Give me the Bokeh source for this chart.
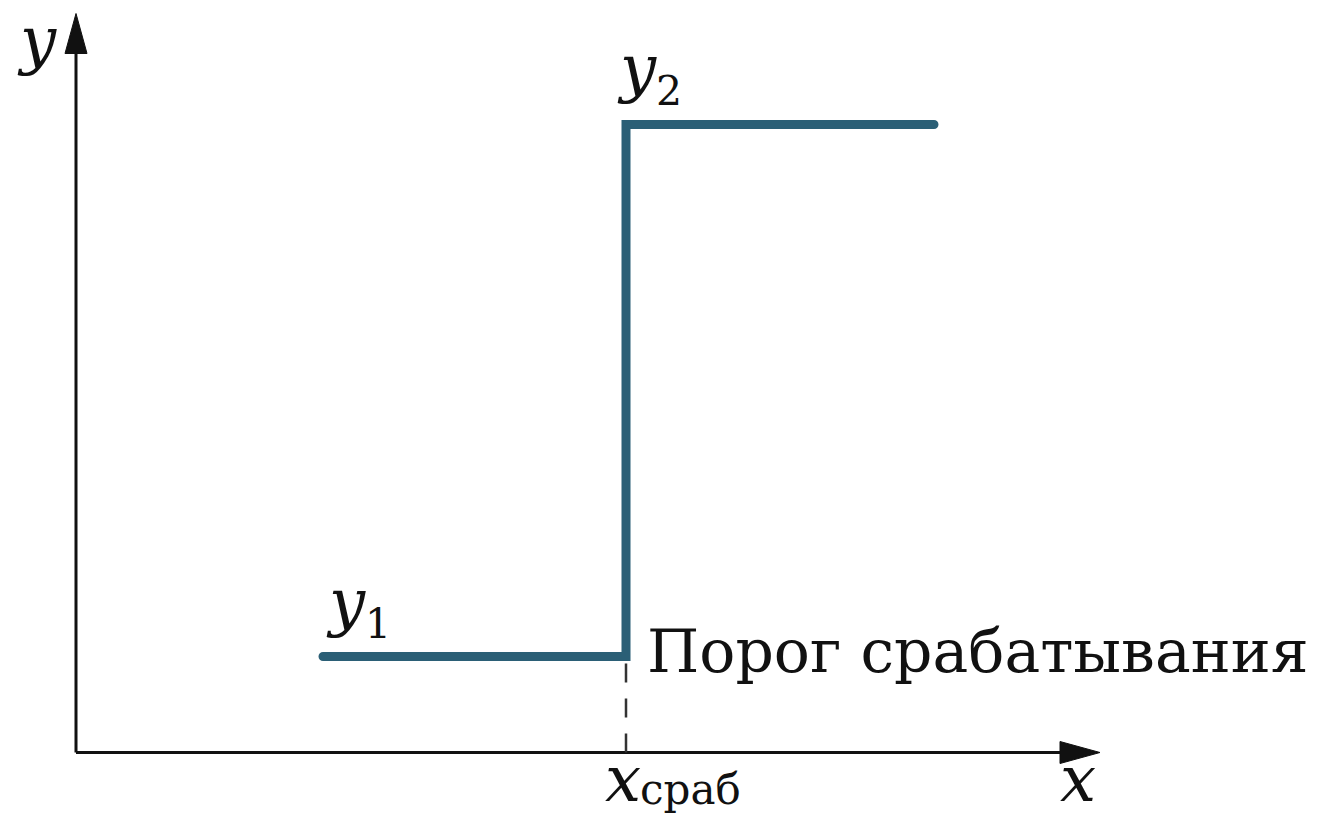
from bokeh.plotting import figure
from bokeh.models import Range1d
from bokeh.core.properties import value
from bokeh.embed import file_html
from bokeh.resources import INLINE

# ---- data (1 unit = 100 px) ----
x_start = 2.47      # start of the lower level
x_thr = 5.50        # switching threshold x_сраб
x_end = 8.58        # end of the upper level
y1 = 0.96           # lower level
y2 = 6.28           # upper level
x_axis_end = 10.24
y_axis_end = 7.39

step_x = [x_start, x_thr, x_thr, x_end]
step_y = [y1, y1, y2, y2]

label_threshold = "Порог срабатывания"
label_x_sub = "сраб"

W, H = 1309, 814
p = figure(width=W, height=H, output_backend="svg", toolbar_location=None,
           x_range=Range1d(-0.755, 12.335), y_range=Range1d(-0.62, 7.52),
           min_border=0)
p.axis.visible = False
p.grid.visible = False
p.outline_line_color = None
p.background_fill_color = "white"
p.border_fill_color = "white"

serif = value("DejaVu Serif")
ink = "#111111"
teal = "#2b5f76"

# axes with arrow heads
hl, hw = 0.40, 0.11
p.line([0, x_axis_end - hl + 0.02], [0, 0], line_width=3, line_color=ink)
p.line([0, 0], [0, y_axis_end - hl + 0.02], line_width=3, line_color=ink)
p.patch([x_axis_end, x_axis_end - hl, x_axis_end - hl],
        [0, hw, -hw], fill_color=ink, line_color=ink, line_width=1)
p.patch([0, hw, -hw], [y_axis_end, y_axis_end - hl, y_axis_end - hl],
        fill_color=ink, line_color=ink, line_width=1)

# dashed threshold line
p.line([x_thr, x_thr], [0, y1], line_width=2.5, line_color="#333333",
       line_dash="19 16")

# step
p.line(step_x, step_y, line_width=9, line_color=teal,
       line_cap="round", line_join="miter")

var = "64px"
sub = "41px"

def txt(x, y, t, size, style="normal", dx=0, dy=0, color=ink):
    p.text(x=[x], y=[y], text=[t], text_font=serif, text_font_size=size,
           text_font_style=style, text_color=color, text_align="left",
           text_baseline="alphabetic", x_offset=dx, y_offset=dy)

# axis labels
txt(0, y_axis_end, "y", var, "italic", dx=-56, dy=26)
txt(x_axis_end, 0, "x", var, "italic", dx=-40, dy=26)

# y1
txt(x_start, y1, "y", var, "italic", dx=6, dy=-55)
txt(x_start, y1, "1", sub, "normal", dx=42, dy=-34)
# y2
txt(x_thr, y2, "y", var, "italic", dx=-6, dy=-57)
txt(x_thr, y2, "2", sub, "normal", dx=30, dy=-35)

# x_сраб
txt(x_thr, 0, "x", var, "italic", dx=-21, dy=26)
txt(x_thr, 0, label_x_sub, "42px", "normal", dx=14, dy=37)

# threshold label
txt(x_thr, y1, label_threshold, "60px", "normal", dx=21, dy=-6)

open("out.html", "w").write(file_html(p, INLINE))
